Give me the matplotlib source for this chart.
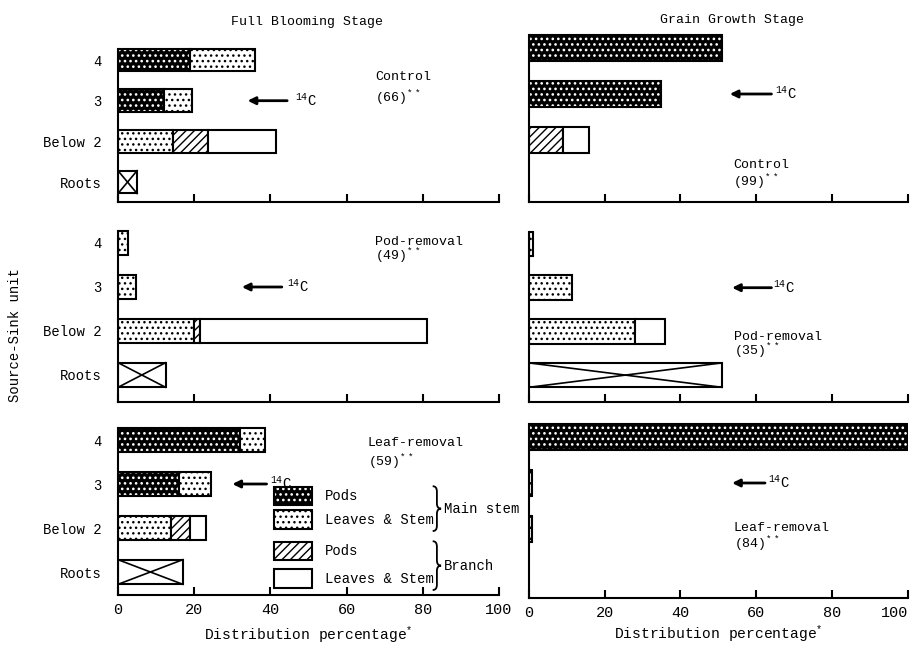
import numpy as np
import matplotlib.pyplot as plt
from matplotlib.patches import Rectangle, PathPatch
from matplotlib.path import Path

plt.rcParams['font.family'] = ['Liberation Mono', 'DejaVu Sans']
plt.rcParams['mathtext.default'] = 'regular'
plt.rcParams['hatch.linewidth'] = 0.9

# rows of each panel (top to bottom) -- stacked parts only for 4, 3, Below 2
row_labels = ['4', '3', 'Below 2', 'Roots']
treatments = ['Control', 'Pod-removal', 'Leaf-removal']
bloom_counts = ['(66)', '(49)', '(59)']
grain_counts = ['(99)', '(35)', '(84)']

# Full blooming stage, % of recovered 14C; one list per treatment, rows 4, 3, Below 2
bloom_main_pods = [[19, 12, 0], [0, 0, 0], [32, 16, 0]]
bloom_main_leaves = [[17, 7.5, 14.5], [2.5, 4.7, 20], [6.5, 8.5, 14]]
bloom_branch_pods = [[0, 0, 9], [0, 0, 1.5], [0, 0, 5]]
bloom_branch_leaves = [[0, 0, 18], [0, 0, 59.5], [0, 0, 4]]
bloom_roots = [5, 12.5, 17]

# Grain growth stage
grain_main_pods = [[51, 35, 0], [0, 0, 0], [100, 0, 0]]
grain_main_leaves = [[0, 0, 0], [1.2, 11.5, 28], [0, 1, 1]]
grain_branch_pods = [[0, 0, 9], [0, 0, 0], [0, 0, 0]]
grain_branch_leaves = [[0, 0, 7], [0, 0, 8], [0, 0, 0]]
grain_roots = [0, 51, 0]

W, H = 918, 646
fig = plt.figure(figsize=(W / 100, H / 100), dpi=100)

LW = 1.5
BAR_H = 0.56

# fill styles for the four plant parts
parts = [
    dict(dark=True, hatch='...', hlw=1.1),     # main stem pods
    dict(dark=False, hatch='...', hlw=1.0),    # main stem leaves & stem
    dict(dark=False, hatch='////', hlw=1.0),   # branch pods
    dict(dark=False, hatch=None, hlw=1.0),     # branch leaves & stem
]


def styled(patches, style):
    for p in patches:
        if hasattr(p, 'set_hatch_linewidth'):
            p.set_hatch_linewidth(style['hlw'])


def segment(ax, y, left, width, style):
    if width <= 0:
        return
    with plt.rc_context({'hatch.linewidth': style['hlw']}):
        if style['dark']:
            b = ax.barh(y, width, left=left, height=BAR_H, color='black',
                        edgecolor='white', hatch=style['hatch'], linewidth=0)
            styled(b, style)
            ax.barh(y, width, left=left, height=BAR_H, fill=False,
                    edgecolor='black', linewidth=LW)
        else:
            b = ax.barh(y, width, left=left, height=BAR_H, facecolor='white',
                        edgecolor='black', hatch=style['hatch'], linewidth=LW)
            styled(b, style)


def key_box(ax, x, y, w, h, style):
    kw = dict(transform=ax.transData, clip_on=False)
    with plt.rc_context({'hatch.linewidth': style['hlw']}):
        if style['dark']:
            p = ax.add_patch(Rectangle((x, y), w, h, facecolor='black', edgecolor='white',
                                       hatch=style['hatch'], linewidth=0, **kw))
            styled([p], style)
            ax.add_patch(Rectangle((x, y), w, h, fill=False, edgecolor='black',
                                   linewidth=LW, **kw))
        else:
            p = ax.add_patch(Rectangle((x, y), w, h, facecolor='white', edgecolor='black',
                                       hatch=style['hatch'], linewidth=LW, **kw))
            styled([p], style)


def brace(ax, x0, y0, y1, w, d):
    # right-pointing curly brace between y0 and y1
    xm, ym = x0 + w / 2, (y0 + y1) / 2
    verts = [(x0, y1), (xm, y1), (xm, y1 - d), (xm, ym + d), (xm, ym), (x0 + w, ym),
             (xm, ym), (xm, ym - d), (xm, y0 + d), (xm, y0), (x0, y0)]
    codes = [Path.MOVETO, Path.CURVE3, Path.CURVE3, Path.LINETO, Path.CURVE3, Path.CURVE3,
             Path.CURVE3, Path.CURVE3, Path.LINETO, Path.CURVE3, Path.CURVE3]
    ax.add_patch(PathPatch(Path(verts, codes), fill=False, edgecolor='black',
                           linewidth=1.3, clip_on=False))


def make_axes(left, right, axis_y, row4_y, step):
    # pixel box -> figure axes; rows sit at 3.5, 2.5, 1.5, 0.5
    top = row4_y - 0.5 * step
    ax = fig.add_axes([left / W, 1 - axis_y / H, (right - left) / W, (axis_y - top) / H])
    y0 = 0.5 - (axis_y - (row4_y + 3 * step)) / step
    ax.set_ylim(y0, 4.0)
    ax.set_xlim(0, 100)
    for s in ('top', 'right'):
        ax.spines[s].set_visible(False)
    ax.spines['left'].set_linewidth(LW)
    ax.spines['bottom'].set_linewidth(LW)
    ax.spines['left'].set_bounds(y0, 3.5 + BAR_H / 2)
    ax.set_xticks(np.arange(0, 101, 20))
    ax.tick_params(axis='x', direction='in', length=6, width=LW, labelsize=11, pad=6)
    ax.patch.set_alpha(0)
    return ax


# (axis line y, row "4" y, row step) in pixels
left_geo = [(202, 60, 40.7), (402, 243, 44), (595, 440, 44)]
right_geo = [(202, 48, 46), (402, 244, 43.7), (598, 437, 46)]

ypos = np.array([3.5, 2.5, 1.5])

stages = [
    (118, 499, left_geo, bloom_main_pods, bloom_main_leaves, bloom_branch_pods,
     bloom_branch_leaves, bloom_roots, bloom_counts),
    (528.7, 908, right_geo, grain_main_pods, grain_main_leaves, grain_branch_pods,
     grain_branch_leaves, grain_roots, grain_counts),
]

# label / arrow placement in data units per panel
arrow_pos = [
    [(44.4, 34, 46.5), (43, 32.5, 44.4), (39, 30, 40)],
    [(64, 53, 65), (64, 53.6, 64.5), (62.3, 53.6, 63)],
]
name_pos = [
    [(67.5, 3.08, 2.55), (67.5, 3.52, 3.2), (65.6, 3.43, 3.0)],
    [(53.9, 0.96, 0.58), (54.1, 1.37, 1.04), (54.1, 1.52, 1.18)],
]

axes = {}
for si, (xl, xr, geo, mp, ml, bp, bl, roots, counts) in enumerate(stages):
    for ti in range(3):
        ax = make_axes(xl, xr, *geo[ti])
        axes[si, ti] = ax
        series = [mp[ti], ml[ti], bp[ti], bl[ti]]
        left = np.zeros(3)
        for style, vals in zip(parts, series):
            for r in range(3):
                segment(ax, ypos[r], left[r], vals[r], style)
            left += np.array(vals)
        # roots: open box crossed corner to corner
        rv = roots[ti]
        if rv > 0:
            ax.barh(0.5, rv, height=BAR_H, facecolor='white', edgecolor='black', linewidth=LW)
            ax.plot([0, rv], [0.5 - BAR_H / 2, 0.5 + BAR_H / 2], color='black', lw=1.2)
            ax.plot([0, rv], [0.5 + BAR_H / 2, 0.5 - BAR_H / 2], color='black', lw=1.2)

        if si == 0:
            ax.set_yticks([3.5, 2.5, 1.5, 0.5])
            ax.set_yticklabels(row_labels, fontsize=10)
            ax.tick_params(axis='y', length=0, pad=12)
        else:
            ax.set_yticks([])

        if ti < 2:
            ax.set_xticklabels([])
        else:
            ax.set_xlabel('Distribution percentage$^{*}$', fontsize=10.5,
                          labelpad=5 if si == 0 else 2)
            if si == 1:
                ax.get_xticklabels()[-1].set_horizontalalignment('right')

        tail, head, tx = arrow_pos[si][ti]
        ax.annotate('', xy=(head, 2.5), xytext=(tail, 2.5),
                    arrowprops=dict(arrowstyle='-|>,head_length=0.45,head_width=0.22',
                                    color='black', lw=2.0, shrinkA=0, shrinkB=0))
        ax.text(tx, 2.5, '$^{14}$C', fontsize=10, va='center', ha='left')

        nx, ny1, ny2 = name_pos[si][ti]
        ax.text(nx, ny1, treatments[ti], fontsize=9.5, va='center', ha='left')
        ax.text(nx, ny2, counts[ti] + '$^{**}$', fontsize=9.5, va='center', ha='left')

# key for the plant parts, inside the leaf-removal blooming panel
kax = axes[0, 2]
key_names = ['Pods', 'Leaves & Stem', 'Pods', 'Leaves & Stem']
key_y = [2.02, 1.48, 0.77, 0.14]
for style, name, ky in zip(parts, key_names, key_y):
    key_box(kax, 41, ky, 10, 0.42, style)
    kax.text(54.3, ky + 0.21, name, fontsize=10, va='center', ha='left')
for (b0, b1), name in [((1.43, 2.45), 'Main stem'), ((0.09, 1.2), 'Branch')]:
    brace(kax, 82.6, b0, b1, 2.2, 0.12)
    kax.text(85.6, (b0 + b1) / 2, name, fontsize=10, va='center', ha='left')

fig.text(307 / W, 1 - 22 / H, 'Full Blooming Stage', fontsize=9.5, ha='center', va='center')
fig.text(732 / W, 1 - 20 / H, 'Grain Growth Stage', fontsize=9.5, ha='center', va='center')
fig.text(15 / W, 1 - 335 / H, 'Source-Sink unit', fontsize=10, rotation=90,
         ha='center', va='center')

fig.savefig('out.png', dpi=100)
